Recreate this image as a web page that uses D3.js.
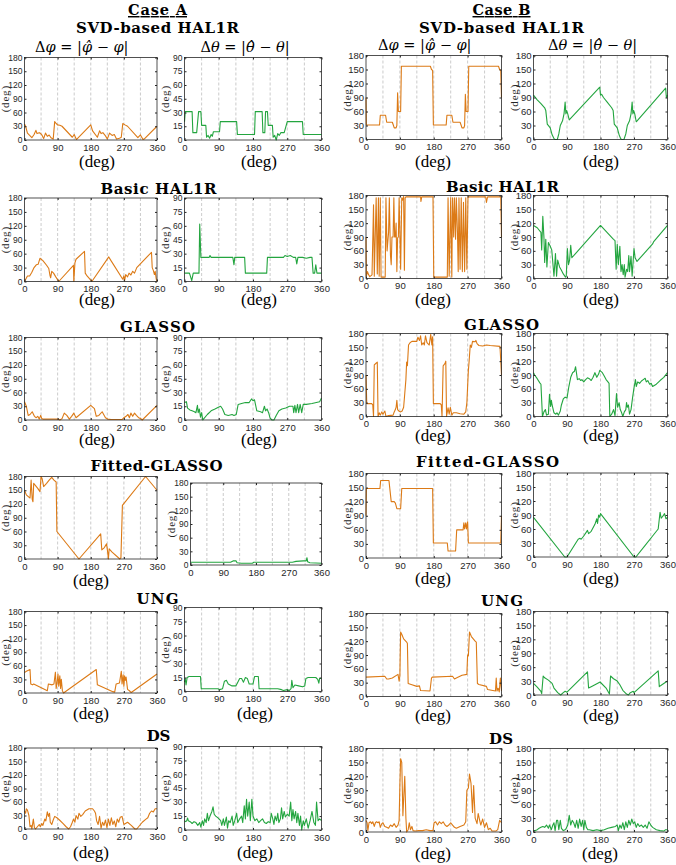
<!DOCTYPE html>
<html>
<head>
<meta charset="UTF-8">
<title>Case A / Case B angle errors</title>
<script src="https://cdnjs.cloudflare.com/ajax/libs/d3/7.8.5/d3.min.js"></script>
<style>
  body { margin: 0; background: #fff; }
  .title { font-family: "DejaVu Serif", "Liberation Serif", serif; font-weight: bold; fill: #000; }
  .math { font-family: "DejaVu Serif", serif; fill: #000; }
  .xlab { font-family: "Liberation Serif", "Times New Roman", serif; fill: #000; }
  .ylab { font-family: "Liberation Serif", "Times New Roman", serif; fill: #262626; letter-spacing: 0.8px; }
  .tick line { stroke: #262626; }
</style>
</head>
<body>
<svg id="chart" width="676" height="865"></svg>
<script>
// ---- data (angle in deg, error in deg) ----
const methods = ["SVD-based HAL1R", "Basic HAL1R", "GLASSO", "Fitted-GLASSO", "UNG", "DS"];
const xTicks = [0, 90, 180, 270, 360];
const gridAngles = [45, 90, 135, 180, 225, 270, 315];
const yMaxA_theta = [90, 90, 90, 180, 90, 90];

const svdA_phi = [[0,35],[3,30],[8,15],[14,10],[20,5],[26,12],[31,21],[34,14],[40,16],[44,14],[48,10],[52,3],[57,15],[62,8],[67,11],[72,5],[78,2],[82,40],[86,36],[90,33],[96,32],[102,30],[130,6],[135,12],[141,1],[180,33],[185,20],[198,6],[204,20],[208,14],[213,16],[220,9],[225,2],[231,15],[238,10],[244,12],[250,2],[258,4],[263,6],[267,36],[273,33],[280,30],[308,5],[315,11],[322,1],[325,2],[360,30]];
const svdA_theta = [[0,20],[2,31],[20,31],[22,8],[32,8],[37,31],[43,31],[45,16],[56,16],[58,3],[62,5],[66,2],[70,6],[73,4],[76,9],[92,9],[94,20],[137,20],[139,6],[184,6],[186,31],[204,31],[206,8],[211,8],[213,31],[218,31],[220,16],[231,16],[233,3],[237,5],[241,0],[245,7],[249,5],[253,8],[262,8],[270,20],[310,20],[312,6],[360,6]];
const svdB_phi = [[0,90],[1,31],[36,31],[38,52],[52,52],[55,37],[70,37],[73,30],[75,25],[80,25],[82,30],[84,100],[86,60],[92,60],[94,157],[171,157],[174,150],[177,148],[179,31],[213,31],[215,52],[228,52],[231,37],[250,37],[253,30],[255,25],[260,25],[262,30],[264,97],[266,60],[271,60],[273,157],[352,157],[355,150],[358,148],[360,90]];
const svdB_theta = [[0,95],[10,85],[20,77],[30,68],[33,62],[37,33],[45,25],[50,10],[55,2],[58,0],[64,0],[68,12],[72,30],[78,40],[82,55],[85,80],[87,55],[89,62],[92,55],[96,42],[178,112],[180,95],[183,97],[188,90],[198,80],[210,68],[214,62],[217,33],[225,25],[230,10],[234,2],[237,0],[243,0],[248,12],[252,30],[258,40],[262,55],[265,80],[267,55],[269,62],[272,55],[276,38],[355,110],[357,90],[360,95]];

const basicA_phi = [[0,0],[4,6],[8,12],[14,12],[20,20],[26,30],[32,36],[37,37],[42,50],[50,45],[60,35],[66,28],[69,14],[71,8],[74,22],[79,18],[85,10],[93,0],[133,35],[134,0],[137,40],[140,48],[163,65],[165,18],[170,12],[180,3],[183,0],[229,53],[235,45],[267,5],[270,12],[272,2],[275,15],[280,10],[284,18],[289,14],[294,22],[299,18],[305,30],[345,63],[347,30],[350,24],[353,15],[355,22],[358,5],[360,0]];
const basicA_theta = [[0,9],[13,9],[19,1],[23,9],[38,9],[40,62],[43,26],[65,26],[67,28],[70,26],[127,26],[130,18],[132,26],[158,26],[160,9],[216,9],[218,26],[260,26],[264,28],[270,27],[278,28],[286,26],[292,26],[295,19],[298,26],[310,26],[320,25],[330,26],[335,26],[338,9],[342,9],[345,18],[348,9],[360,9]];
const basicB_phi = [[0,90],[1,5],[4,15],[7,8],[10,4],[16,8],[20,160],[22,5],[27,175],[30,10],[33,175],[35,5],[38,175],[40,3],[51,3],[53,175],[56,60],[60,100],[62,175],[65,50],[67,30],[69,90],[72,90],[74,175],[76,90],[78,90],[80,120],[82,15],[84,88],[86,90],[88,175],[90,100],[92,20],[95,175],[97,170],[100,178],[102,18],[104,175],[106,177],[145,177],[146,167],[148,177],[178,177],[180,3],[216,3],[218,175],[221,5],[225,175],[228,3],[230,175],[233,90],[235,175],[238,85],[240,175],[243,100],[245,15],[247,175],[250,20],[253,175],[256,15],[259,165],[262,15],[265,175],[268,20],[271,177],[318,177],[320,165],[323,177],[358,177],[360,90]];
const basicB_theta = [[0,115],[10,110],[20,100],[22,62],[25,135],[28,90],[30,35],[33,85],[36,25],[40,78],[45,70],[49,62],[55,5],[59,54],[62,5],[65,40],[70,25],[75,18],[80,10],[86,3],[88,5],[91,65],[94,30],[97,40],[100,72],[103,45],[180,115],[215,85],[219,82],[222,20],[225,74],[228,30],[232,70],[235,15],[238,30],[241,8],[244,30],[246,3],[250,20],[253,15],[256,50],[258,15],[262,48],[265,5],[270,65],[273,45],[278,37],[320,75],[323,80],[360,115]];

const glassoA_phi = [[0,40],[5,30],[10,10],[15,12],[21,18],[27,8],[32,5],[36,8],[40,2],[44,10],[47,3],[50,2],[70,2],[92,2],[96,0],[102,3],[108,15],[115,10],[122,2],[128,8],[134,15],[140,5],[180,32],[190,25],[195,8],[202,10],[211,18],[220,5],[226,2],[235,1],[265,1],[270,5],[276,8],[281,12],[285,5],[289,15],[294,8],[299,15],[304,10],[310,5],[316,3],[320,0],[360,32]];
const glassoA_theta = [[0,19],[5,20],[8,13],[14,11],[20,10],[26,9],[30,8],[34,16],[36,8],[39,12],[42,3],[45,8],[48,0],[52,2],[60,6],[70,10],[80,12],[89,14],[95,15],[100,12],[106,6],[115,5],[125,6],[130,5],[136,6],[141,17],[150,18],[160,19],[170,19],[176,23],[180,21],[184,22],[190,10],[200,9],[205,8],[210,15],[213,10],[217,12],[221,8],[225,2],[230,0],[235,0],[241,5],[248,10],[256,12],[266,13],[276,15],[285,15],[287,8],[290,16],[293,8],[297,17],[300,8],[304,17],[308,8],[312,17],[320,17],[335,18],[355,20],[360,24]];
const glassoB_phi = [[0,90],[2,28],[15,28],[18,25],[20,0],[22,112],[26,115],[30,118],[32,0],[35,8],[38,3],[42,10],[45,5],[50,12],[53,0],[60,2],[72,3],[75,10],[78,15],[80,20],[82,35],[84,15],[87,12],[92,10],[96,12],[100,20],[103,50],[106,80],[108,118],[110,110],[113,155],[117,160],[122,163],[135,163],[138,172],[142,165],[145,175],[148,155],[152,160],[155,155],[158,175],[162,160],[168,155],[172,178],[175,155],[177,173],[179,28],[197,28],[200,25],[202,0],[205,110],[210,115],[212,120],[214,0],[218,19],[221,5],[224,20],[228,3],[232,8],[240,8],[250,6],[260,5],[265,10],[268,30],[270,65],[272,100],[274,120],[277,155],[280,150],[283,163],[290,162],[292,165],[295,158],[300,154],[310,153],[320,155],[330,154],[356,152],[360,90]];
const glassoB_theta = [[0,95],[3,90],[10,82],[17,73],[20,70],[24,0],[28,10],[32,15],[35,3],[40,5],[43,48],[46,22],[48,35],[50,25],[55,8],[60,5],[63,8],[67,3],[72,12],[75,25],[80,38],[85,42],[90,40],[95,65],[100,85],[105,95],[110,98],[113,108],[118,80],[123,82],[127,78],[130,80],[135,75],[140,80],[145,84],[150,82],[155,78],[160,85],[165,95],[170,85],[175,92],[178,100],[185,95],[190,88],[195,80],[200,75],[203,72],[205,0],[210,5],[215,15],[219,2],[223,50],[226,20],[230,30],[233,15],[236,10],[240,0],[244,10],[248,15],[250,30],[252,20],[255,25],[258,5],[262,15],[266,40],[270,62],[274,80],[276,65],[280,75],[285,72],[290,77],[295,80],[300,83],[303,75],[307,78],[312,70],[316,72],[320,65],[330,70],[340,78],[350,85],[360,95]];

const fittedA_phi = [[0,150],[5,140],[15,133],[18,172],[21,130],[23,125],[25,165],[30,160],[36,154],[42,147],[45,180],[48,175],[52,158],[60,165],[67,172],[74,178],[80,172],[86,168],[88,60],[148,0],[207,55],[210,20],[217,25],[223,33],[226,15],[228,0],[230,22],[238,15],[259,0],[262,3],[266,117],[329,180],[360,150]];
const fittedA_theta = [[0,6],[110,6],[117,9],[125,9],[128,5],[140,4],[170,4],[174,6],[280,6],[290,8],[310,9],[318,9],[320,16],[322,7],[328,5],[360,4]];
const fittedB_phi = [[0,90],[1,148],[37,148],[39,165],[61,165],[63,150],[67,120],[75,120],[78,117],[82,105],[92,105],[95,148],[177,148],[179,32],[216,32],[218,15],[238,15],[241,60],[258,60],[260,75],[262,62],[265,75],[267,62],[270,77],[272,32],[358,32],[360,90]];
const fittedB_theta = [[0,85],[84,0],[90,0],[120,38],[125,40],[128,38],[135,45],[145,57],[148,50],[155,55],[165,70],[170,82],[172,72],[175,90],[178,85],[180,93],[270,0],[275,0],[300,25],[320,45],[335,60],[340,96],[343,83],[348,88],[352,93],[356,82],[360,85]];

const ungA_phi = [[0,45],[5,48],[15,52],[17,20],[22,18],[25,20],[62,5],[65,20],[75,18],[80,20],[84,46],[86,10],[88,20],[91,42],[93,15],[96,38],[98,10],[100,30],[103,5],[106,0],[195,52],[198,18],[240,3],[245,2],[249,20],[258,22],[263,48],[265,20],[268,40],[270,15],[272,38],[274,28],[276,35],[280,8],[285,5],[290,1],[360,42]];
const ungA_theta = [[0,10],[2,14],[4,7],[7,15],[12,16],[42,16],[44,3],[88,3],[92,2],[100,3],[105,11],[110,12],[115,8],[125,6],[135,6],[145,14],[150,14],[155,10],[160,15],[165,14],[170,8],[180,8],[184,16],[194,16],[196,3],[245,3],[255,2],[260,1],[270,2],[275,1],[280,3],[282,12],[285,4],[290,7],[300,6],[310,5],[316,6],[319,14],[325,15],[345,15],[350,13],[353,9],[355,14],[360,14]];
const ungB_phi = [[0,42],[50,44],[55,38],[60,38],[70,40],[85,48],[88,33],[90,45],[92,140],[95,135],[100,125],[108,118],[110,115],[112,28],[120,26],[135,22],[142,23],[145,13],[170,12],[174,40],[176,42],[230,44],[235,38],[240,40],[255,46],[268,48],[270,90],[272,88],[275,140],[280,130],[290,120],[293,118],[296,28],[300,26],[320,22],[323,15],[344,12],[346,40],[348,12],[351,18],[354,10],[357,40],[360,12]];
const ungB_theta = [[0,25],[10,17],[20,8],[22,3],[26,41],[30,37],[40,32],[50,25],[55,15],[65,5],[73,0],[80,5],[85,8],[90,6],[145,50],[148,15],[155,18],[179,28],[195,15],[204,2],[207,41],[215,35],[225,30],[232,22],[240,10],[250,2],[255,0],[260,5],[268,8],[270,5],[335,52],[338,18],[345,22],[360,30]];

const dsA_phi = [[0,40],[3,35],[5,45],[8,42],[12,30],[15,5],[18,8],[20,0],[24,22],[27,3],[30,0],[35,5],[40,10],[43,5],[47,12],[50,8],[55,22],[58,18],[62,38],[65,28],[68,35],[70,15],[74,10],[78,20],[82,28],[88,25],[95,20],[105,12],[113,5],[120,0],[125,5],[130,15],[133,22],[137,15],[140,30],[145,22],[148,35],[153,28],[158,32],[165,40],[175,45],[185,45],[190,40],[193,35],[196,18],[200,10],[204,28],[208,2],[212,15],[216,8],[220,20],[224,3],[228,22],[232,8],[236,25],[240,10],[244,18],[248,5],[252,22],[256,15],[260,26],[265,28],[270,10],[280,15],[290,8],[300,0],[305,0],[310,5],[320,15],[330,22],[335,25],[340,35],[345,40],[350,38],[355,45],[360,45]];
const dsA_theta = [[0,10],[3,9],[6,10],[8,13],[10,10],[15,9],[20,7],[25,9],[30,8],[35,5],[40,8],[43,3],[47,10],[50,5],[53,12],[57,8],[60,18],[63,10],[67,15],[72,20],[75,25],[78,17],[82,15],[88,13],[95,10],[98,5],[102,12],[105,5],[110,14],[113,2],[116,10],[120,8],[125,15],[128,5],[132,10],[137,18],[140,8],[145,12],[150,15],[153,8],[157,26],[160,12],[163,33],[166,15],[170,30],[173,10],[177,33],[180,15],[185,10],[190,12],[195,8],[200,10],[205,12],[210,8],[215,7],[220,9],[225,8],[228,18],[232,12],[235,6],[238,15],[242,10],[245,18],[248,8],[252,12],[255,24],[258,12],[262,20],[265,14],[270,17],[275,15],[279,30],[282,10],[285,22],[288,12],[292,20],[295,8],[298,18],[302,5],[305,15],[308,0],[312,10],[315,5],[320,12],[325,2],[330,10],[335,20],[340,8],[344,5],[347,30],[351,10],[355,12],[360,10]];
const dsB_phi = [[0,25],[3,20],[5,3],[8,20],[12,22],[15,18],[18,22],[22,12],[25,20],[28,22],[32,20],[35,22],[38,10],[42,18],[45,20],[50,12],[55,10],[60,8],[65,15],[70,12],[75,18],[80,10],[85,15],[88,25],[90,100],[92,158],[95,150],[98,35],[100,70],[103,120],[106,30],[108,0],[112,5],[115,20],[118,5],[122,12],[125,3],[130,2],[140,3],[150,3],[160,5],[170,3],[178,3],[181,20],[185,22],[190,15],[195,22],[200,18],[205,22],[210,15],[215,12],[220,15],[225,20],[230,15],[235,10],[240,8],[250,12],[260,15],[265,22],[268,90],[272,95],[275,125],[279,105],[283,42],[286,100],[290,30],[295,18],[298,40],[302,25],[305,15],[310,28],[315,10],[320,20],[325,5],[330,8],[335,2],[345,2],[350,5],[355,25],[360,20]];
const dsB_theta = [[0,3],[5,3],[10,5],[15,8],[20,10],[25,12],[30,10],[35,15],[40,8],[43,15],[48,5],[52,15],[55,20],[58,3],[62,25],[65,25],[68,5],[72,25],[75,8],[80,3],[85,5],[88,8],[92,15],[96,36],[100,15],[104,25],[108,20],[112,10],[116,25],[120,8],[124,28],[128,12],[132,25],[135,5],[138,25],[142,10],[146,5],[150,5],[160,3],[170,5],[180,3],[190,5],[200,8],[210,10],[220,12],[225,15],[228,3],[232,15],[236,8],[240,20],[244,5],[248,22],[252,10],[256,25],[260,15],[264,28],[268,18],[272,22],[276,10],[280,18],[285,12],[290,15],[295,10],[300,15],[305,8],[310,22],[315,15],[320,10],[330,5],[340,3],[350,2],[355,5],[360,5]];

const seriesA_phi = [svdA_phi, basicA_phi, glassoA_phi, fittedA_phi, ungA_phi, dsA_phi];
const seriesA_theta = [svdA_theta, basicA_theta, glassoA_theta, fittedA_theta, ungA_theta, dsA_theta];
const seriesB_phi = [svdB_phi, basicB_phi, glassoB_phi, fittedB_phi, ungB_phi, dsB_phi];
const seriesB_theta = [svdB_theta, basicB_theta, glassoB_theta, fittedB_theta, ungB_theta, dsB_theta];

// ---- layout ----
const PHI_COLOR = "#DC7A16", THETA_COLOR = "#23A53F";
const layout = {
  A: {
    colL: [24.5, 157], colR: [184.5, 321.5],
    rowsL: [[57.5,140],[198,281.5],[337.5,420],[476.5,559],[611.5,693],[748,829]],
    rowsR: [[57.5,140],[198,281.5],[337.5,420],[483,565],[607.5,691.5],[746.5,830]],
    titleX: [157.5,158.5,157.5,156.5,157.5,158.5], titleY: [33,194,331.5,470.5,603.5,741],
    titleW: [163,116,75,132,42,23.5], caseW: 59,
    xlabY: [167,305,445,586,719,858], xlabL: [97,97,97,91,91,91], xlabR: [259,259,259,null,255,255],
    yTickFont: 8.5
  },
  B: {
    colL: [366, 501.5], colR: [533.5, 667.5],
    rowsL: [[55.5,139.5],[195.5,278.5],[333.5,416.5],[473.5,558],[613.5,696.5],[748.5,832]],
    rowsR: [[55.5,139.5],[195.5,278.5],[333.5,416.5],[473,557],[611.5,695],[748.5,832]],
    titleX: [501.5,502.5,501.5,487.5,502,501], titleY: [33,191.5,329.5,466.5,606,744],
    titleW: [165,113,75,143,42,24], caseW: 58,
    xlabY: [167,305,441,584,721,859], xlabL: [433,433,433,433,433,433], xlabR: [601,601,601,601,601,600],
    yTickFont: 9.5
  }
};

const svg = d3.select("#chart");

function drawPanel(x0, x1, y0, y1, data, yMax, color, yFont) {
  const x = d3.scaleLinear().domain([0, 360]).range([x0, x1]);
  const y = d3.scaleLinear().domain([0, yMax]).range([y1, y0]);
  const g = svg.append("g");

  g.selectAll("line.grid").data(gridAngles).enter().append("line")
    .attr("class", "grid")
    .attr("x1", d => x(d)).attr("x2", d => x(d))
    .attr("y1", y0).attr("y2", y1)
    .attr("stroke", "#b4b4b4").attr("stroke-width", 0.7)
    .attr("stroke-dasharray", "3,2");

  g.append("path").datum(data)
    .attr("d", d3.line().x(d => x(d[0])).y(d => y(d[1])))
    .attr("fill", "none").attr("stroke", color).attr("stroke-width", 1.1)
    .attr("stroke-linejoin", "round");

  const yTicks = d3.range(0, yMax + 1, yMax / 6);
  const yAx = g.append("g").attr("transform", `translate(${x0},0)`)
    .call(d3.axisLeft(y).tickValues(yTicks).tickSize(-2).tickPadding(2));
  yAx.selectAll("text").attr("font-size", yFont)
    .attr("font-family", "'Liberation Sans', Arial, sans-serif").attr("fill", "#262626");
  g.append("g").attr("transform", `translate(${x1},0)`)
    .call(d3.axisRight(y).tickValues(yTicks).tickSize(-2).tickFormat(""));

  const xAx = g.append("g").attr("transform", `translate(0,${y1})`)
    .call(d3.axisBottom(x).tickValues(xTicks).tickSize(-2).tickPadding(4));
  xAx.selectAll("text").attr("font-size", 9.5)
    .attr("font-family", "'Liberation Sans', Arial, sans-serif").attr("fill", "#262626");
  g.append("g").attr("transform", `translate(0,${y0})`)
    .call(d3.axisTop(x).tickValues(xTicks).tickSize(-2).tickFormat(""));
  g.selectAll(".domain").remove();

  g.append("rect").attr("x", x0).attr("y", y0)
    .attr("width", x1 - x0).attr("height", y1 - y0)
    .attr("fill", "none").attr("stroke", "#262626").attr("stroke-width", 0.8);

  g.append("text").attr("class", "ylab")
    .attr("transform", `translate(${x0 - 19},${(y0 + y1) / 2}) rotate(-90)`)
    .attr("text-anchor", "middle").attr("dy", "0.35em")
    .attr("font-size", 11).text("(deg)");
}

["A", "B"].forEach(c => {
  const L = layout[c];
  const phiS = c === "A" ? seriesA_phi : seriesB_phi;
  const thS = c === "A" ? seriesA_theta : seriesB_theta;

  // case heading
  svg.append("text").attr("class", "title")
    .attr("x", L.titleX[0]).attr("y", 15).attr("text-anchor", "middle")
    .attr("font-size", 14.5).attr("textLength", L.caseW)
    .style("text-decoration", "underline")
    .text("Case " + c);

  methods.forEach((m, i) => {
    svg.append("text").attr("class", "title")
      .attr("x", L.titleX[i]).attr("y", L.titleY[i]).attr("text-anchor", "middle")
      .attr("font-size", 15).attr("textLength", L.titleW[i]).text(m);

    let rl = L.rowsL[i], rr = L.rowsR[i];
    let xr0 = L.colR[0];
    const thMax = c === "A" ? yMaxA_theta[i] : 180;
    if (thMax === 180 && c === "A") xr0 = 190.5;

    drawPanel(L.colL[0], L.colL[1], rl[0], rl[1], phiS[i], 180, PHI_COLOR, L.yTickFont);
    drawPanel(xr0, L.colR[1], rr[0], rr[1], thS[i], thMax, THETA_COLOR, L.yTickFont);

    svg.append("text").attr("class", "xlab").attr("font-size", 17)
      .attr("x", L.xlabL[i]).attr("y", L.xlabY[i]).attr("text-anchor", "middle").text("(deg)");
    if (L.xlabR[i] !== null) {
      svg.append("text").attr("class", "xlab").attr("font-size", 17)
        .attr("x", L.xlabR[i]).attr("y", L.xlabY[i]).attr("text-anchor", "middle").text("(deg)");
    }
  });

  // column headings: Δφ and Δθ
  const labY = c === "A" ? 51.5 : 50;
  const cxL = (L.colL[0] + L.colL[1]) / 2 - 9, cxR = (L.colR[0] + L.colR[1]) / 2 - 8;
  [[cxL, "\u03C6"], [cxR, "\u03B8"]].forEach(([cx, sym]) => {
    const t = svg.append("text").attr("class", "math")
      .attr("x", cx).attr("y", labY).attr("text-anchor", "middle").attr("font-size", 14.5);
    t.append("tspan").text("\u0394");
    t.append("tspan").attr("font-style", "italic").text(sym);
    t.append("tspan").text(" = |");
    t.append("tspan").attr("font-style", "italic").text(sym + "\u0302");
    t.append("tspan").text(" \u2212 ");
    t.append("tspan").attr("font-style", "italic").text(sym);
    t.append("tspan").text("|");
  });
});
</script>
</body>
</html>
